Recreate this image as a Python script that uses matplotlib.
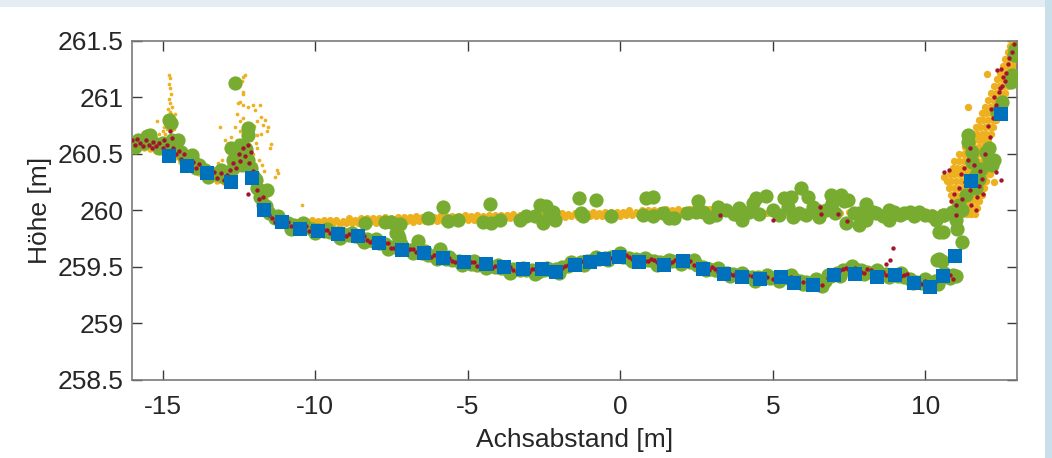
import numpy as np
import matplotlib
matplotlib.use("Agg")
import matplotlib.pyplot as plt
from matplotlib.patches import Rectangle

plt.rcParams['font.family'] = ['Liberation Sans', 'DejaVu Sans']
plt.rcParams['axes.unicode_minus'] = False

ORANGE = '#EDB120'
GREEN = '#77AC30'
RED = '#A2142F'
BLUE = '#0072BD'

# blue squares (profile points)
blue_x = [-14.79, -14.19, -13.54, -12.74, -12.08, -11.67, -11.07, -10.49, -9.92, -9.26,
          -8.59, -7.92, -7.14, -6.44, -5.80, -5.11, -4.41, -3.81, -3.19, -2.55,
          -2.10, -1.50, -0.99, -0.52, -0.03, 0.62, 1.42, 2.07, 2.70, 3.39,
          3.98, 4.58, 5.27, 5.70, 6.33, 7.01, 7.70, 8.42, 9.00, 9.61,
          10.14, 10.58, 10.96, 11.49, 12.48]
blue_y = [260.48, 260.39, 260.33, 260.25, 260.29, 260.00, 259.90, 259.84, 259.82, 259.79,
          259.77, 259.71, 259.65, 259.62, 259.58, 259.54, 259.53, 259.50, 259.48, 259.48,
          259.46, 259.52, 259.54, 259.57, 259.59, 259.54, 259.52, 259.55, 259.48, 259.44,
          259.41, 259.39, 259.41, 259.36, 259.34, 259.43, 259.44, 259.41, 259.43, 259.36,
          259.32, 259.42, 259.60, 260.26, 260.85]

# orange: lower band on the left side
orange_left_x = [-16.0, -16.0, -15.9, -15.8, -15.8, -15.7, -15.6, -15.6, -15.5, -15.4, -15.4, -15.3,
                 -15.2, -15.2, -15.1, -15.0, -15.0, -14.9, -14.8, -14.8, -14.7, -14.6, -14.6, -14.5,
                 -14.4, -14.4, -14.3, -14.2, -14.2, -14.1, -14.0, -14.0, -13.9, -13.8, -13.8, -13.7,
                 -13.6, -13.6, -13.5, -13.4, -13.4, -13.3, -13.2, -13.2, -13.1, -13.0, -13.0, -12.9,
                 -12.8, -12.8, -12.7, -12.6, -12.6, -12.5, -12.4, -12.4, -12.3, -12.2, -12.2, -12.1,
                 -12.0, -12.0, -11.9, -11.85, -11.8, -11.75, -11.7, -11.65, -11.6, -11.5, -11.4]
orange_left_y = [260.63, 260.55, 260.60, 260.65, 260.56, 260.61, 260.64, 260.55, 260.60, 260.63, 260.54, 260.59,
                 260.62, 260.53, 260.58, 260.61, 260.52, 260.57, 260.59, 260.50, 260.55, 260.56, 260.47, 260.51,
                 260.52, 260.43, 260.47, 260.48, 260.39, 260.44, 260.45, 260.36, 260.41, 260.42, 260.33, 260.38,
                 260.39, 260.31, 260.35, 260.37, 260.29, 260.33, 260.35, 260.26, 260.30, 260.33, 260.25, 260.30,
                 260.38, 260.28, 260.42, 260.50, 260.36, 260.47, 260.52, 260.40, 260.47, 260.48, 260.36, 260.38,
                 260.40, 260.27, 260.22, 260.30, 260.12, 260.20, 260.05, 260.10, 259.98, 259.95, 259.92]

# orange: scattered points of the two spikes on the left
orange_spike_x = [-14.78, -14.74, -14.80, -14.76, -14.72, -14.79, -14.75, -14.70, -14.83, -14.77,
                  -14.73, -14.68, -14.86, -14.80, -14.90, -14.66, -14.95, -14.85, -14.70, -14.62,
                  -15.00, -14.92, -15.10, -14.65, -15.05, -14.58, -15.19, -14.59,
                  -12.36, -12.40, -12.30, -12.36, -12.37, -12.46, -12.36, -12.19, -12.03, -11.81,
                  -11.97, -11.76, -11.65, -11.92, -11.70, -11.54, -11.59, -11.76, -11.92, -11.43,
                  -11.48, -11.26, -11.22, -11.30, -12.52, -12.57, -12.36, -12.46, -12.63, -12.46,
                  -12.74, -12.57, -12.85, -12.68, -12.46, -12.24, -13.12, -12.96, -13.06, -13.17,
                  -12.80, -12.65, -12.50, -12.35, -12.20, -12.05, -11.90, -12.72, -12.10, -11.95,
                  -12.25, -11.85, -11.75, -11.68, -10.44, -12.15, -12.00]
orange_spike_y = [261.20, 261.17, 261.12, 261.08, 261.03, 260.99, 260.95, 260.92, 260.90, 260.87,
                  260.85, 260.83, 260.82, 260.80, 260.78, 260.78, 260.74, 260.72, 260.71, 260.72,
                  260.70, 260.68, 260.68, 260.66, 260.64, 260.64, 260.79, 260.85,
                  261.18, 261.15, 261.20, 261.05, 261.03, 260.96, 260.93, 260.92, 260.93, 260.93,
                  260.89, 260.83, 260.80, 260.79, 260.76, 260.74, 260.70, 260.68, 260.67, 260.59,
                  260.55, 260.36, 260.33, 260.30, 260.95, 260.85, 260.82, 260.79, 260.74, 260.70,
                  260.65, 260.62, 260.60, 260.57, 260.58, 260.60, 260.74, 260.62, 260.45, 260.42,
                  260.50, 260.53, 260.55, 260.55, 260.52, 260.50, 260.55, 260.45, 260.62, 260.60,
                  260.66, 260.45, 260.40, 260.35, 260.05, 260.70, 260.75]

# orange: flat upper band
orange_flat_x = [-11.3, -11.2, -11.1, -11.0, -10.9, -10.8, -10.7, -10.6, -10.5, -10.4, -10.3, -10.2,
                 -10.1, -10.0, -9.9, -9.8, -9.7, -9.6, -9.5, -9.4, -9.3, -9.2, -9.1, -9.0,
                 -8.9, -8.8, -8.7, -8.6, -8.5, -8.4, -8.3, -8.2, -8.1, -8.0, -7.9, -7.8,
                 -7.7, -7.6, -7.5, -7.4, -7.3, -7.2, -7.1, -7.0, -6.9, -6.8, -6.7, -6.6,
                 -6.5, -6.4, -6.3, -6.2, -6.1, -6.0, -5.9, -5.8, -5.7, -5.6, -5.5, -5.4,
                 -5.3, -5.2, -5.1, -5.0, -4.9, -4.8, -4.7, -4.6, -4.5, -4.4, -4.3, -4.2,
                 -4.1, -4.0, -3.9, -3.8, -3.7, -3.6, -3.5, -3.4, -3.3, -3.2, -3.1, -3.0,
                 -2.9, -2.8, -2.7, -2.6, -2.5, -2.4, -2.3, -2.2, -2.1, -2.0, -1.9, -1.8,
                 -1.7, -1.6, -1.5, -1.4, -1.3, -1.2, -1.1, -1.0, -0.9, -0.8, -0.7, -0.6,
                 -0.5, -0.4, -0.3, -0.2, -0.1, 0.0, 0.1, 0.2, 0.3, 0.4, 0.5, 0.6,
                 0.7, 0.8, 0.9, 1.0, 1.1, 1.2, 1.3, 1.4, 1.5, 1.6, 1.7, 1.8,
                 1.9, 2.0, 2.1, 2.2, 2.3, 2.4, 2.5, 2.6, 2.7, 2.8, 2.9, 3.0,
                 3.3, 3.6, 3.9, 4.2, 4.5, 4.8, 5.1, 5.4, 5.7, 6.0, 6.3, 6.6,
                 6.9, 7.2, 7.5, 7.8, 8.1, 8.4, 8.7, 9.0, 9.3, 9.6, 9.9, 10.2, 10.5, 10.8]
orange_flat_y = [259.92, 259.88, 259.91, 259.87, 259.91, 259.87, 259.90, 259.88, 259.91, 259.87, 259.91, 259.88,
                 259.92, 259.88, 259.91, 259.88, 259.92, 259.88, 259.92, 259.89, 259.92, 259.88, 259.91, 259.89,
                 259.93, 259.89, 259.92, 259.89, 259.93, 259.89, 259.93, 259.90, 259.93, 259.89, 259.93, 259.90,
                 259.94, 259.90, 259.93, 259.90, 259.94, 259.90, 259.94, 259.91, 259.94, 259.90, 259.95, 259.91,
                 259.94, 259.91, 259.95, 259.91, 259.94, 259.91, 259.95, 259.91, 259.95, 259.92, 259.95, 259.91,
                 259.95, 259.92, 259.96, 259.92, 259.95, 259.92, 259.96, 259.92, 259.95, 259.92, 259.96, 259.93,
                 259.96, 259.92, 259.96, 259.93, 259.96, 259.93, 259.97, 259.93, 259.96, 259.93, 259.97, 259.94,
                 259.97, 259.93, 259.97, 259.94, 259.97, 259.94, 259.98, 259.94, 259.97, 259.94, 259.98, 259.94,
                 259.97, 259.95, 259.98, 259.94, 259.98, 259.95, 259.98, 259.95, 259.99, 259.95, 259.98, 259.95,
                 259.99, 259.95, 259.99, 259.96, 259.99, 259.95, 259.99, 259.96, 260.00, 259.96, 259.99, 259.96,
                 260.00, 259.96, 260.00, 259.97, 260.00, 259.96, 260.00, 259.97, 260.01, 259.97, 260.00, 259.97,
                 260.01, 259.97, 260.00, 259.97, 260.01, 259.98, 260.01, 259.97, 260.01, 259.98, 260.01, 259.98,
                 259.98, 259.98, 259.99, 259.98, 259.99, 259.98, 259.99, 259.99, 259.98, 259.99, 259.99, 259.98,
                 259.99, 259.98, 259.99, 259.99, 259.98, 259.99, 259.99, 259.98, 259.99, 259.99, 259.98, 259.99, 259.99, 259.98]

# orange: bank on the right side
orange_cliff_x = [11.05, 11.2, 11.35, 11.5, 11.62,
                  10.95, 11.1, 11.25, 11.4, 11.55, 11.68,
                  10.9, 11.05, 11.2, 11.35, 11.5, 11.65, 11.75,
                  10.85, 11.0, 11.15, 11.3, 11.45, 11.6, 11.75, 11.85,
                  10.78, 10.92, 11.07, 11.22, 11.37, 11.52, 11.67, 11.82, 11.92,
                  10.7, 10.85, 11.0, 11.15, 11.3, 11.45, 11.6, 11.75, 11.88, 11.98,
                  10.8, 10.95, 11.1, 11.25, 11.4, 11.55, 11.7, 11.85, 12.0, 12.1,
                  10.9, 11.05, 11.2, 11.35, 11.5, 11.65, 11.8, 11.95, 12.08,
                  10.95, 11.1, 11.25, 11.4, 11.55, 11.7, 11.85, 12.0,
                  11.1, 11.25, 11.4, 11.55, 11.7, 11.85, 12.0,
                  11.3, 11.45, 11.6, 11.75, 11.9, 12.05,
                  11.45, 11.6, 11.75, 11.9, 12.05,
                  11.55, 11.7, 11.85, 12.0, 12.15,
                  11.65, 11.8, 11.95, 12.1, 12.2,
                  11.75, 11.9, 12.05, 12.2, 12.3,
                  11.85, 12.0, 12.15, 12.3,
                  11.95, 12.1, 12.25, 12.4,
                  12.05, 12.2, 12.35, 12.5,
                  12.15, 12.3, 12.45, 12.6,
                  12.25, 12.4, 12.55, 12.7,
                  12.35, 12.5, 12.65, 12.78,
                  12.45, 12.6, 12.72, 12.85,
                  12.55, 12.68, 12.8, 12.9,
                  12.62, 12.75, 12.87, 12.95,
                  12.7, 12.82, 12.93,
                  12.78, 12.9, 12.98,
                  12.85, 12.95,
                  12.03, 11.38, 10.78, 12.25, 10.62]
orange_cliff_y = [259.97, 259.97, 259.97, 259.97, 259.97,
                  260.02, 260.02, 260.02, 260.02, 260.02, 260.02,
                  260.08, 260.08, 260.08, 260.08, 260.08, 260.08, 260.08,
                  260.14, 260.14, 260.14, 260.14, 260.14, 260.14, 260.14, 260.14,
                  260.20, 260.20, 260.20, 260.20, 260.20, 260.20, 260.20, 260.20, 260.20,
                  260.26, 260.26, 260.26, 260.26, 260.26, 260.26, 260.26, 260.26, 260.26, 260.26,
                  260.32, 260.32, 260.32, 260.32, 260.32, 260.32, 260.32, 260.32, 260.32, 260.32,
                  260.38, 260.38, 260.38, 260.38, 260.38, 260.38, 260.38, 260.38, 260.38,
                  260.44, 260.44, 260.44, 260.44, 260.44, 260.44, 260.44, 260.44,
                  260.50, 260.50, 260.50, 260.50, 260.50, 260.50, 260.50,
                  260.56, 260.56, 260.56, 260.56, 260.56, 260.56,
                  260.62, 260.62, 260.62, 260.62, 260.62,
                  260.68, 260.68, 260.68, 260.68, 260.68,
                  260.74, 260.74, 260.74, 260.74, 260.74,
                  260.80, 260.80, 260.80, 260.80, 260.80,
                  260.86, 260.86, 260.86, 260.86,
                  260.92, 260.92, 260.92, 260.92,
                  260.98, 260.98, 260.98, 260.98,
                  261.04, 261.04, 261.04, 261.04,
                  261.10, 261.10, 261.10, 261.10,
                  261.16, 261.16, 261.16, 261.16,
                  261.22, 261.22, 261.22, 261.22,
                  261.28, 261.28, 261.28, 261.28,
                  261.34, 261.34, 261.34, 261.34,
                  261.40, 261.40, 261.40,
                  261.46, 261.46, 261.46,
                  261.50, 261.50,
                  261.21, 260.92, 260.25, 260.25, 260.30]

# green circles: lower band (ground surface)
green_low_x = [-16.0, -15.8, -15.6, -15.4, -15.2, -15.0, -14.8, -14.6, -14.4, -14.2, -14.0, -13.8,
               -13.6, -13.4, -13.2, -13.0, -12.8, -12.6, -12.4, -12.2, -12.0, -11.9, -11.8, -11.7,
               -11.5, -11.3, -11.1, -10.9, -10.7, -10.5, -10.3, -10.1, -9.9, -9.7, -9.5, -9.3,
               -9.1, -8.9, -8.7, -8.5, -8.3, -8.1, -7.9, -7.7, -7.5, -7.3, -7.1, -6.9,
               -6.7, -6.5, -6.3, -6.1, -5.9, -5.7, -5.5, -5.3, -5.1, -4.9, -4.7, -4.5,
               -4.3, -4.1, -3.9, -3.7, -3.5, -3.3, -3.1, -2.9, -2.7, -2.5, -2.3, -2.1,
               -1.9, -1.7, -1.5, -1.3, -1.1, -0.9, -0.7, -0.5, -0.3, -0.1, 0.1, 0.3,
               0.5, 0.7, 0.9, 1.1, 1.3, 1.5, 1.7, 1.9, 2.1, 2.3, 2.5, 2.7,
               2.9, 3.1, 3.3, 3.5, 3.7, 3.9, 4.1, 4.3, 4.5, 4.7, 4.9, 5.1,
               5.3, 5.5, 5.7, 5.9, 6.1, 6.3, 6.5, 6.7, 6.9, 7.1, 7.3, 7.5,
               7.7, 7.9, 8.1, 8.3, 8.5, 8.7, 8.9, 9.1, 9.3, 9.5, 9.7, 9.9,
               10.1, 10.3, 10.5, 10.7, 10.9, 11.0]
green_low_y = [260.60, 260.62, 260.60, 260.64, 260.59, 260.60, 260.58, 260.56, 260.52, 260.47, 260.44, 260.40,
               260.36, 260.33, 260.32, 260.30, 260.33, 260.42, 260.40, 260.45, 260.30, 260.20, 260.12, 260.05,
               259.98, 259.93, 259.91, 259.89, 259.87, 259.86, 259.85, 259.84, 259.83, 259.82, 259.81, 259.80,
               259.79, 259.78, 259.77, 259.76, 259.75, 259.73, 259.71, 259.70, 259.68, 259.67, 259.66, 259.65,
               259.64, 259.62, 259.61, 259.60, 259.59, 259.57, 259.56, 259.55, 259.54, 259.53, 259.52, 259.52,
               259.51, 259.50, 259.49, 259.48, 259.48, 259.47, 259.47, 259.47, 259.46, 259.47, 259.47, 259.48,
               259.50, 259.51, 259.53, 259.54, 259.55, 259.56, 259.57, 259.58, 259.59, 259.60, 259.59, 259.58,
               259.57, 259.56, 259.56, 259.55, 259.54, 259.54, 259.55, 259.55, 259.55, 259.54, 259.52, 259.50,
               259.48, 259.47, 259.46, 259.45, 259.44, 259.43, 259.42, 259.41, 259.41, 259.40, 259.40, 259.41,
               259.41, 259.40, 259.39, 259.38, 259.37, 259.36, 259.36, 259.38, 259.42, 259.45, 259.47, 259.48,
               259.48, 259.47, 259.46, 259.45, 259.44, 259.44, 259.43, 259.42, 259.41, 259.39, 259.37, 259.36,
               259.36, 259.38, 259.40, 259.42, 259.43, 259.42]

green_low2_x = [-15.9, -15.5, -15.1, -14.7, -14.3, -13.9, -13.5, -13.1, -12.7, -12.5, -12.3, -12.1,
                -11.95, -11.75, -11.6, -10.8, -10.4, -10.0, -9.6, -9.2, -8.8, -8.4, -8.0, -7.6,
                -7.2, -6.8, -6.4, -6.0, -5.6, -5.2, -4.8, -4.4, -4.0, -3.6, -3.2, -2.8,
                -2.4, -2.0, -1.6, -1.2, -0.8, -0.4, 0.0, 0.4, 0.8, 1.2, 1.6, 2.0,
                2.4, 2.8, 3.2, 3.6, 4.0, 4.4, 4.8, 5.2, 5.6, 6.0, 6.4, 6.6,
                6.8, 7.2, 7.6, 8.0, 8.4, 8.8, 9.2, 9.6, 10.0, 10.4, 10.6, 10.8]
green_low2_y = [260.56, 260.66, 260.55, 260.62, 260.47, 260.38, 260.30, 260.36, 260.38, 260.48, 260.50, 260.38,
                260.27, 260.17, 260.04, 259.84, 259.89, 259.80, 259.84, 259.76, 259.80, 259.72, 259.75, 259.66,
                259.70, 259.62, 259.64, 259.57, 259.59, 259.52, 259.55, 259.49, 259.52, 259.45, 259.49, 259.44,
                259.49, 259.45, 259.54, 259.52, 259.59, 259.56, 259.62, 259.55, 259.58, 259.52, 259.56, 259.53,
                259.56, 259.47, 259.49, 259.42, 259.45, 259.38, 259.43, 259.38, 259.43, 259.35, 259.39, 259.33,
                259.43, 259.42, 259.51, 259.44, 259.47, 259.41, 259.45, 259.36, 259.39, 259.35, 259.45, 259.40]

# green circles: outliers at the left spikes and between the bands
green_out_x = [-15.41, -14.78, -14.72, -14.48, -14.05, -12.63, -12.19, -12.19, -12.30, -12.45,
               -12.75, -12.68, -12.25, -11.59, -11.21, -7.34, -7.25, -6.64, -5.92, 10.39,
               10.55, 10.45]
green_out_y = [260.67, 260.80, 260.77, 260.62, 260.49, 261.13, 260.73, 260.67, 260.55, 260.58,
               260.55, 260.45, 260.54, 260.18, 259.95, 259.80, 259.76, 259.73, 259.66, 259.56,
               259.55, 259.57]

# green circles: upper band (water surface)
green_up_x = [-8.37, -7.72, -7.50, -7.23, -7.28, -6.30, -5.81, -5.64, -5.32, -4.50, -4.28, -4.23,
              -3.95, -3.30, -3.08, -2.81, -2.64, -2.43, -2.21, -2.15, -2.54, -2.35, -1.34, -0.79,
              -1.28, -1.23, -0.30, 0.85, 1.07, 0.74, 1.07, 1.39, 1.77, 1.60, 2.20, 2.48,
              2.54, 2.70, 2.92, 3.14, 3.19, 3.46, 3.73, 3.90, 3.95, 4.00, 4.23, 4.34,
              4.45, 4.56, 4.77, 5.00, 5.21, 5.38, 5.49, 5.60, 5.65, 5.87, 5.92, 6.08,
              6.14, 6.30, 6.46, 6.52, 6.73, 6.90, 6.95, 7.05, 7.23, 7.34, 7.39, 7.45,
              7.66, 7.83, 7.83, 8.00, 8.05, 8.05, 8.27, 8.38, 8.60, 8.82, 8.82, 8.98,
              9.15, 9.31, 9.48, 9.64, 9.80, 9.97, 10.23, 10.34, 10.56, 10.61, 10.88]
green_up_y = [259.89, 259.90, 259.90, 259.88, 259.78, 259.93, 260.03, 259.91, 259.92, 259.90, 260.06, 259.89,
              259.92, 259.92, 259.95, 259.95, 260.05, 260.04, 259.99, 259.92, 259.89, 259.95, 260.11, 260.09,
              259.98, 259.95, 259.95, 260.11, 260.12, 259.96, 259.95, 259.98, 259.93, 259.93, 259.98, 259.99,
              260.08, 259.99, 259.94, 259.96, 260.03, 260.00, 259.97, 260.02, 259.94, 259.92, 259.99, 260.07,
              260.11, 259.97, 260.13, 260.00, 259.96, 260.11, 260.03, 260.12, 259.94, 259.98, 260.20, 259.96,
              260.12, 260.03, 260.00, 259.94, 260.00, 260.14, 260.07, 259.98, 260.14, 260.08, 259.89, 260.09,
              259.98, 259.87, 259.98, 259.94, 260.06, 259.92, 259.99, 259.98, 259.95, 260.00, 259.92, 259.99,
              259.96, 259.98, 259.99, 259.95, 259.99, 259.96, 259.95, 259.92, 259.81, 259.96, 259.99]

# green circles: right bank
green_cliff_x = [10.45, 10.56, 10.99, 11.05, 11.21, 11.38, 11.40, 11.54, 11.65, 11.98, 12.08, 12.19,
                 11.81, 11.65, 11.32, 11.10, 11.76, 12.52, 12.36, 12.85, 12.90, 12.92, 12.79, 12.08,
                 12.24, 11.54, 11.20]
green_cliff_y = [259.81, 259.96, 259.92, 259.84, 259.72, 260.67, 260.61, 260.43, 260.31, 260.52, 260.46, 260.40,
                 260.37, 260.20, 260.14, 260.05, 260.28, 260.96, 260.87, 261.20, 261.38, 261.43, 261.14, 260.55,
                 260.45, 260.52, 260.00]

# red dots
red_x = [-16.0, -15.9, -15.85, -15.75, -15.65, -15.55, -15.45, -15.35, -15.3, -15.2, -15.1, -15.0,
         -14.95, -14.85, -14.75, -14.7, -14.65, -14.55, -14.45, -14.4, -14.3, -14.2, -14.1, -14.0,
         -13.9, -13.8, -13.7, -13.6, -13.5, -13.4, -13.3, -13.2, -13.1, -13.0, -12.9, -12.8,
         -12.7, -12.6, -12.5, -12.45, -12.35, -12.3, -12.2, -12.15, -12.1, -12.05, -12.2, -12.0,
         -11.9, -11.85, -11.75, -11.7, -11.6, -11.5, -11.4, -11.3, -11.2, -11.1, -10.9, -10.8,
         -10.6, -10.5, -10.3, -10.2, -10.0, -9.8, -9.6, -9.4, -9.2, -9.0, -8.8, -8.6,
         -8.4, -8.2, -8.0, -7.8, -7.6, -7.4, -7.2, -7.0, -6.8, -6.6, -6.4, -6.2,
         -6.0, -5.8, -5.6, -5.4, -5.2, -5.0, -4.8, -4.6, -4.4, -4.2, -4.0, -3.8,
         -3.6, -3.4, -3.2, -3.0, -2.8, -2.6, -2.4, -2.2, -2.0, -1.8, -1.6, -1.4,
         -1.2, -1.0, -0.8, -0.6, -0.4, -0.2, 0.0, 0.2, 0.4, 0.6, 0.8, 1.0,
         1.2, 1.4, 1.6, 1.8, 2.0, 2.2, 2.4, 2.6, 2.8, 3.0, 3.2, 3.4,
         3.6, 3.8, 4.0, 4.2, 4.6, 5.0, 5.4, 5.8, 6.2, 6.6, 7.0, 7.2,
         7.4, 7.6, 7.8, 8.0, 8.2, 8.4, 8.6, 8.8, 9.0, 9.2, 9.4, 9.6,
         9.8, 10.0, 10.2, 10.4, 10.6, 10.8, 10.9, 8.94, 8.84, 8.71, 3.28, 5.00,
         6.55, 6.58, 7.12, 7.42,
         10.61, 10.78, 10.99, 12.46, 12.30, 11.00, 11.10, 11.20, 11.30, 11.15, 11.25, 11.35,
         11.45, 11.50, 11.55, 11.60, 11.40, 11.70, 11.65, 11.75, 11.80, 11.90, 11.85, 11.45,
         11.95, 12.10, 12.05, 12.20, 12.30, 12.25, 12.40, 12.50, 12.55, 12.65, 12.70, 12.75,
         12.85, 12.90, 12.60, 12.45, 12.15, 10.85, 10.95, 12.36, 12.46]
red_y = [260.62, 260.58, 260.63, 260.60, 260.57, 260.62, 260.58, 260.55, 260.61, 260.57, 260.60, 260.55,
         260.62, 260.58, 260.70, 260.64, 260.55, 260.50, 260.53, 260.46, 260.50, 260.44, 260.40, 260.43,
         260.38, 260.41, 260.36, 260.33, 260.37, 260.31, 260.34, 260.29, 260.33, 260.27, 260.31, 260.36,
         260.42, 260.38, 260.50, 260.44, 260.55, 260.48, 260.58, 260.42, 260.52, 260.35, 260.15, 260.25,
         260.18, 260.10, 260.04, 260.12, 260.00, 259.96, 259.93, 259.90, 259.92, 259.88, 259.90, 259.86,
         259.88, 259.84, 259.86, 259.82, 259.84, 259.81, 259.83, 259.79, 259.81, 259.77, 259.79, 259.75,
         259.77, 259.72, 259.74, 259.70, 259.71, 259.67, 259.68, 259.64, 259.66, 259.62, 259.63, 259.59,
         259.61, 259.57, 259.58, 259.54, 259.56, 259.52, 259.54, 259.51, 259.53, 259.49, 259.51, 259.48,
         259.50, 259.46, 259.48, 259.46, 259.48, 259.45, 259.48, 259.47, 259.49, 259.51, 259.52, 259.55,
         259.54, 259.57, 259.56, 259.59, 259.58, 259.61, 259.60, 259.61, 259.57, 259.58, 259.55, 259.57,
         259.54, 259.56, 259.53, 259.56, 259.54, 259.56, 259.52, 259.53, 259.49, 259.50, 259.46, 259.47,
         259.44, 259.45, 259.42, 259.43, 259.40, 259.39, 259.42, 259.38, 259.36, 259.34, 259.44, 259.47,
         259.49, 259.46, 259.48, 259.45, 259.47, 259.44, 259.46, 259.43, 259.45, 259.42, 259.44, 259.39,
         259.37, 259.38, 259.36, 259.39, 259.41, 259.43, 259.39, 259.67, 259.56, 259.53, 259.96, 259.92,
         260.03, 259.97, 259.97, 259.91,
         260.34, 260.36, 259.96, 260.27, 260.34, 260.05, 260.20, 260.10, 260.25, 260.32, 260.38, 260.30,
         260.18, 260.05, 260.25, 260.40, 260.45, 260.12, 260.00, 260.22, 260.35, 260.15, 260.28, 260.55,
         260.50, 260.65, 260.75, 260.82, 260.93, 261.00, 261.05, 261.10, 261.18, 261.22, 261.30, 261.35,
         261.40, 261.47, 261.15, 261.08, 260.90, 260.08, 260.15, 261.24, 261.25]

# more red dots along the lower band
red_band_x = [-10.7, -10.4, -10.1, -9.9, -9.7, -9.5, -9.3, -9.1, -8.9, -8.7, -8.5, -8.3,
              -8.1, -7.9, -7.7, -7.5, -7.3, -7.1, -6.9, -6.7, -6.5, -6.3, -6.1, -5.9,
              -5.7, -5.5, -5.3, -5.1, -4.9, -4.7, -4.5, -4.3, -4.1, -3.9, -3.7, -3.5,
              -3.3, -3.1, -2.9, -2.7, -2.5, -2.3, -2.1, -1.9, -1.7, -1.5, -1.3, -1.1,
              -0.9, -0.7, -0.5, -0.3, -0.1, 0.1, 0.3, 0.5, 0.7, 0.9, 1.1, 1.3,
              1.5, 1.7, 1.9, 2.1, 2.3, 2.5, 2.7, 2.9, 3.1, 3.3, 3.5, 3.7,
              3.9, 4.1, 4.3, 4.4, 4.8, 5.2, 5.6, 6.0, 6.4, 6.8, 7.1, 7.3,
              7.5, 7.7, 7.9, 8.1, 8.3, 8.5, 8.7, 8.9, 9.1, 9.3, 9.5, 9.7,
              9.9, 10.1, 10.3, 10.5, 10.7]
red_band_y = [259.86, 259.85, 259.85, 259.82, 259.83, 259.80, 259.81, 259.78, 259.79, 259.76, 259.77, 259.74,
              259.74, 259.70, 259.71, 259.67, 259.68, 259.65, 259.66, 259.63, 259.63, 259.60, 259.61, 259.58,
              259.58, 259.55, 259.56, 259.53, 259.54, 259.51, 259.53, 259.50, 259.51, 259.48, 259.49, 259.47,
              259.48, 259.46, 259.48, 259.45, 259.48, 259.46, 259.49, 259.49, 259.52, 259.52, 259.55, 259.54,
              259.57, 259.56, 259.59, 259.58, 259.61, 259.58, 259.59, 259.56, 259.57, 259.55, 259.56, 259.53,
              259.55, 259.54, 259.56, 259.54, 259.55, 259.51, 259.51, 259.47, 259.48, 259.45, 259.46, 259.43,
              259.44, 259.41, 259.42, 259.40, 259.41, 259.40, 259.41, 259.37, 259.35, 259.40, 259.46, 259.48,
              259.47, 259.49, 259.46, 259.48, 259.44, 259.46, 259.43, 259.44, 259.41, 259.43, 259.40, 259.38,
              259.35, 259.37, 259.37, 259.40, 259.42]

fig = plt.figure(figsize=(10.52, 4.58), dpi=100)
fig.patch.set_facecolor('white')

# light blue frame of the slide background
fig.add_artist(Rectangle((0, 1 - 7 / 458), 1, 7 / 458, transform=fig.transFigure,
                         facecolor='#e3edf3', edgecolor='none', zorder=0))
fig.add_artist(Rectangle((1045 / 1052, 0), 7 / 1052, 1, transform=fig.transFigure,
                         facecolor='#c9dfea', edgecolor='none', zorder=0))

ax = fig.add_axes([132 / 1052, 1 - 380 / 458, 885 / 1052, 339 / 458])

ax.scatter(orange_left_x, orange_left_y, s=22, c=ORANGE, linewidths=0, zorder=2)
ax.scatter(orange_flat_x, orange_flat_y, s=26, c=ORANGE, linewidths=0, zorder=2)
ax.scatter(orange_cliff_x, orange_cliff_y, s=28, c=ORANGE, linewidths=0, zorder=2)
ax.scatter(orange_spike_x, orange_spike_y, s=7, c=ORANGE, linewidths=0, zorder=2)

for gx, gy in [(green_low_x, green_low_y), (green_low2_x, green_low2_y),
               (green_out_x, green_out_y), (green_up_x, green_up_y),
               (green_cliff_x, green_cliff_y)]:
    ax.scatter(gx, gy, s=105, c=GREEN, linewidths=0, zorder=3)

ax.scatter(red_x, red_y, s=10, c=RED, linewidths=0, zorder=4)
ax.scatter(red_band_x, red_band_y, s=10, c=RED, linewidths=0, zorder=4)
ax.scatter(blue_x, blue_y, s=95, c=BLUE, marker='s', linewidths=0, zorder=5)

ax.set_xlim(-16, 13)
ax.set_ylim(258.5, 261.5)
ax.set_xticks([-15, -10, -5, 0, 5, 10])
ax.set_yticks([258.5, 259, 259.5, 260, 260.5, 261, 261.5])
ax.set_yticklabels(['258.5', '259', '259.5', '260', '260.5', '261', '261.5'])

for sp in ax.spines.values():
    sp.set_color('#7a7a7a')
    sp.set_linewidth(1.2)
ax.tick_params(direction='in', length=7, width=1, color='#3a3a3a',
               top=True, right=True, labelsize=19, labelcolor='#262626')
ax.tick_params(axis='x', pad=11)
ax.tick_params(axis='y', pad=6)

ax.set_xlabel('Achsabstand [m]', fontsize=19, color='#262626', labelpad=6)
ax.set_ylabel('Höhe [m]', fontsize=19, color='#262626', labelpad=4)

fig.savefig('out.png', dpi=100)
